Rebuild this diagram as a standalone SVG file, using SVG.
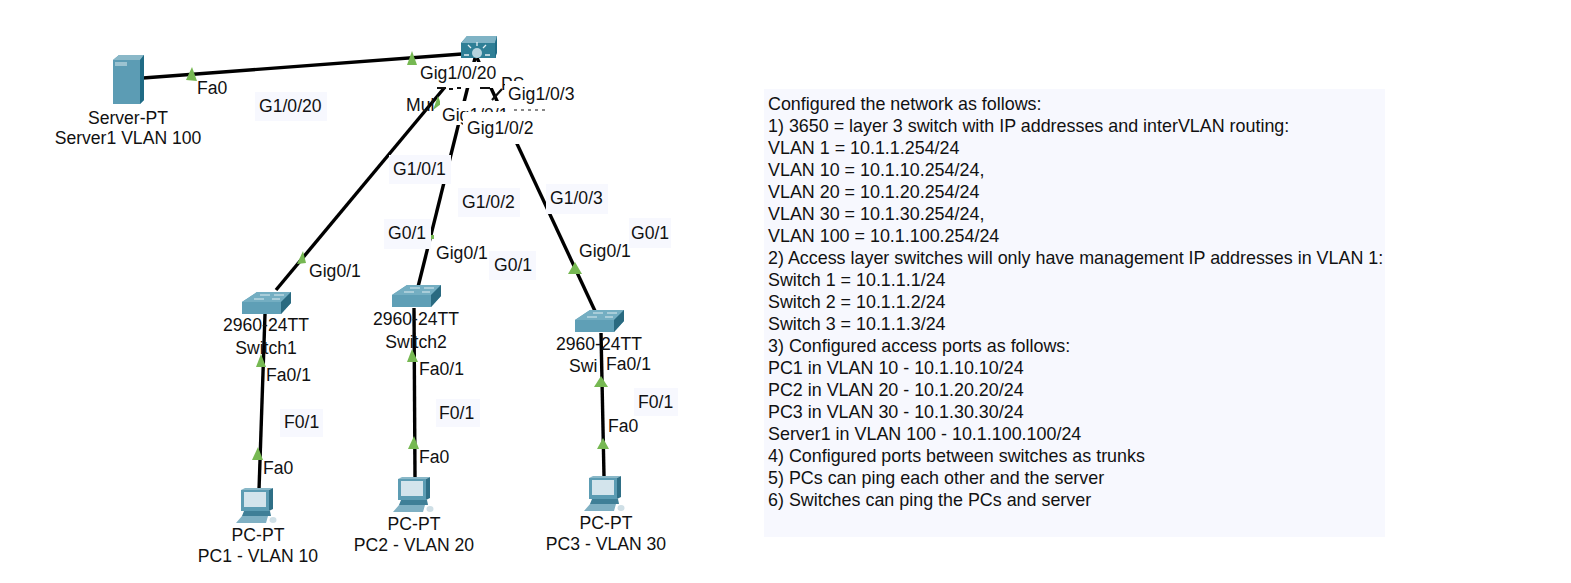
<svg xmlns="http://www.w3.org/2000/svg" width="1571" height="583" viewBox="0 0 1571 583">
<defs>
<style>
text{font-family:"Liberation Sans",Arial,sans-serif;font-size:17.6px;fill:#111}
.c{text-anchor:middle}
.l{stroke:#000;stroke-width:3.4;fill:none}
.t{fill:#76b852}
.bg{fill:#f7f8fe}
.w{fill:#fff}
.nt{font-size:17.9px}
</style>
<g id="pcicon">
<path d="M-17 -22 L11 -22 L11 -1 L-17 -1Z" fill="#5c9cb3"/>
<path d="M-17 -22 L-13 -24 L15 -24 L11 -22Z" fill="#8ab8c8"/>
<path d="M11 -22 L15 -24 L15 -3 L11 -1Z" fill="#2f6f86"/>
<rect x="-14" y="-20" width="22" height="15" fill="#d3e4ec"/>
<path d="M-14 -1 L12 -1 L13 4 L-16 4Z" fill="#3f7f97"/>
<path d="M-16 4 L10 4 L8 11 L-22 11Z" fill="#7fb0c3"/>
<ellipse cx="15" cy="8" rx="3.5" ry="3" fill="#cfdfe6"/>
</g>
<g id="swicon">
<path d="M-24 -1 L-9 -11 L25 -11 L25 0 L15 11 L-24 11Z" fill="#5f9fb6"/>
<path d="M-24 -1 L-9 -11 L25 -11 L15 -1Z" fill="#74aec2"/>
<path d="M15 -1 L25 -11 L25 0 L15 11Z" fill="#2a6a80"/>
<path d="M-6 -8 L4 -8 M8 -8 L18 -8 M-12 -4 L-2 -4 M6 -4 L14 -4" stroke="#dcebf0" stroke-width="1"/>
</g>
</defs>
<rect width="1571" height="583" fill="#fff"/>

<g id="notes">
<rect x="764" y="89" width="621" height="448" class="bg"/>
<text class="nt" x="768" y="110">Configured the network as follows:</text>
<text class="nt" x="768" y="132">1) 3650 = layer 3 switch with IP addresses and interVLAN routing:</text>
<text class="nt" x="768" y="154">VLAN 1 = 10.1.1.254/24</text>
<text class="nt" x="768" y="176">VLAN 10 = 10.1.10.254/24,</text>
<text class="nt" x="768" y="198">VLAN 20 = 10.1.20.254/24</text>
<text class="nt" x="768" y="220">VLAN 30 = 10.1.30.254/24,</text>
<text class="nt" x="768" y="242">VLAN 100 = 10.1.100.254/24</text>
<text class="nt" x="768" y="264">2) Access layer switches will only have management IP addresses in VLAN 1:</text>
<text class="nt" x="768" y="286">Switch 1 = 10.1.1.1/24</text>
<text class="nt" x="768" y="308">Switch 2 = 10.1.1.2/24</text>
<text class="nt" x="768" y="330">Switch 3 = 10.1.1.3/24</text>
<text class="nt" x="768" y="352">3) Configured access ports as follows:</text>
<text class="nt" x="768" y="374">PC1 in VLAN 10 - 10.1.10.10/24</text>
<text class="nt" x="768" y="396">PC2 in VLAN 20 - 10.1.20.20/24</text>
<text class="nt" x="768" y="418">PC3 in VLAN 30 - 10.1.30.30/24</text>
<text class="nt" x="768" y="440">Server1 in VLAN 100 - 10.1.100.100/24</text>
<text class="nt" x="768" y="462">4) Configured ports between switches as trunks</text>
<text class="nt" x="768" y="484">5) PCs can ping each other and the server</text>
<text class="nt" x="768" y="506">6) Switches can ping the PCs and server</text>
</g>

<g id="connectors">
<path class="l" d="M143 78 L462 54"/>
<path class="l" d="M445 87 L276 290"/>
<path class="l" d="M475 58 L418 287"/>
<path class="l" d="M477 58 L595 311"/>
<path class="l" d="M265 314 L259 490"/>
<path class="l" d="M414 308 L415 478"/>
<path class="l" d="M601 333 L604 476"/>
<path class="t" d="M192 67 L197 81 L186 80Z"/>
<path class="t" d="M412 51 L417 65 L407 65Z"/>
<path class="t" d="M303 251 L306 263 L297 264Z"/>
<path class="t" d="M261 354 L266 367 L256 367Z"/>
<path class="t" d="M258 447 L263 460 L252 460Z"/>
<path class="t" d="M412 349 L418 362 L407 362Z"/>
<path class="t" d="M414 436 L419 449 L408 449Z"/>
<path class="t" d="M575 262 L582 274 L568 274Z"/>
<path class="t" d="M601 376 L608 387 L594 387Z"/>
<path class="t" d="M603 438 L609 449 L597 449Z"/>
<path class="t" d="M438 96 L441 104 L433 110Z"/>
<rect x="431" y="235" width="3" height="4" class="t"/>
</g>

<g id="server1">
<path d="M113 60 L119 55 L144 55 L144 100 L140 104 L113 104Z" fill="#5c9cb4"/>
<path d="M113 60 L119 55 L144 55 L140 60Z" fill="#8ab8c8"/>
<path d="M140 60 L144 55 L144 100 L140 104Z" fill="#1f6b85"/>
<rect x="115" y="62" width="12" height="4" fill="#9cc3d1"/>
<text class="c" x="128" y="124">Server-PT</text>
<text class="c" x="128" y="144">Server1 VLAN 100</text>
</g>

<g id="multilayer">
<path d="M461 43 L467 36 L497 36 L496 43 L496 58 L461 58Z" fill="#2f7f96"/>
<path d="M461 43 L467 36 L497 36 L495 43Z" fill="#7fb3c5"/>
<path d="M495 43 L497 36 L497 53 L495 58Z" fill="#1f6b85"/>
<circle cx="477" cy="53" r="5" fill="#b5d3dd"/>
<path d="M477 46 L477 42 M471 48 L468 45 M483 48 L486 45 M469 55 L464 55 M485 55 L490 55" stroke="#e5f0f4" stroke-width="1.3"/>
</g>

<g id="switch1"><use href="#swicon" x="266" y="303"/>
<text class="c" x="266" y="331">2960-24TT</text>
<text class="c" x="266" y="354">Switch1</text></g>
<g id="switch2"><use href="#swicon" x="416" y="296"/>
<text class="c" x="416" y="325">2960-24TT</text>
<text class="c" x="416" y="348">Switch2</text></g>
<g id="switch3"><use href="#swicon" x="599" y="321"/>
<text class="c" x="599" y="350">2960-24TT</text>
<text x="569" y="372">Swi</text></g>

<g id="pc1"><use href="#pcicon" x="258" y="512"/>
<text class="c" x="258" y="541">PC-PT</text>
<text class="c" x="258" y="562">PC1 - VLAN 10</text></g>
<g id="pc2"><use href="#pcicon" x="415" y="501"/>
<text class="c" x="414" y="530">PC-PT</text>
<text class="c" x="414" y="551">PC2 - VLAN 20</text></g>
<g id="pc3"><use href="#pcicon" x="606" y="500"/>
<text class="c" x="606" y="529">PC-PT</text>
<text class="c" x="606" y="550">PC3 - VLAN 30</text></g>

<g id="port-labels">
<text x="501" y="90">PS</text>
<text x="406" y="111">Mul</text>
<rect x="417" y="62" width="84" height="26" class="w"/>
<text x="420" y="79">Gig1/0/20</text>
<rect x="440" y="101" width="72" height="24" class="w"/>
<text x="442" y="121">Gig1/0/1</text>
<rect x="505" y="81" width="78" height="28" class="w"/>
<text x="508" y="100">Gig1/0/3</text>
<rect x="463" y="112" width="84" height="32" class="w"/>
<text x="467" y="134">Gig1/0/2</text>
<path d="M437 88 L446 88 M449 89 L453 89 M457 88 L461 88 M480 88 L490 88 M502 89 L492 100" stroke="#111" stroke-width="2.2" fill="none"/>
<path d="M514 110 H546" stroke="#111" stroke-width="1.2" stroke-dasharray="3 4" fill="none"/>

<rect x="433" y="240" width="56" height="24" class="w"/>
<text x="436" y="259">Gig0/1</text>
<text x="309" y="277">Gig0/1</text>
<rect x="629" y="218" width="42" height="30" class="bg"/>
<text x="631" y="239">G0/1</text>
<text x="579" y="257">Gig0/1</text>
<text x="197" y="94">Fa0</text>
<text x="266" y="381">Fa0/1</text>
<text x="419" y="375">Fa0/1</text>
<text x="606" y="370">Fa0/1</text>
<text x="263" y="474">Fa0</text>
<text x="419" y="463">Fa0</text>
<text x="608" y="432">Fa0</text>
<rect x="255" y="92" width="72" height="29" class="bg"/>
<text x="259" y="112">G1/0/20</text>
<rect x="389" y="155" width="62" height="29" class="bg"/>
<text x="393" y="175">G1/0/1</text>
<rect x="458" y="188" width="62" height="29" class="bg"/>
<text x="462" y="208">G1/0/2</text>
<rect x="546" y="184" width="62" height="30" class="bg"/>
<text x="550" y="204">G1/0/3</text>
<rect x="384" y="219" width="47" height="30" class="bg"/>
<text x="388" y="239">G0/1</text>
<rect x="489" y="251" width="47" height="29" class="bg"/>
<text x="494" y="271">G0/1</text>
<rect x="280" y="409" width="43" height="28" class="bg"/>
<text x="284" y="428">F0/1</text>
<rect x="436" y="399" width="44" height="28" class="bg"/>
<text x="439" y="419">F0/1</text>
<rect x="634" y="388" width="44" height="28" class="bg"/>
<text x="638" y="408">F0/1</text>
</g>
</svg>
